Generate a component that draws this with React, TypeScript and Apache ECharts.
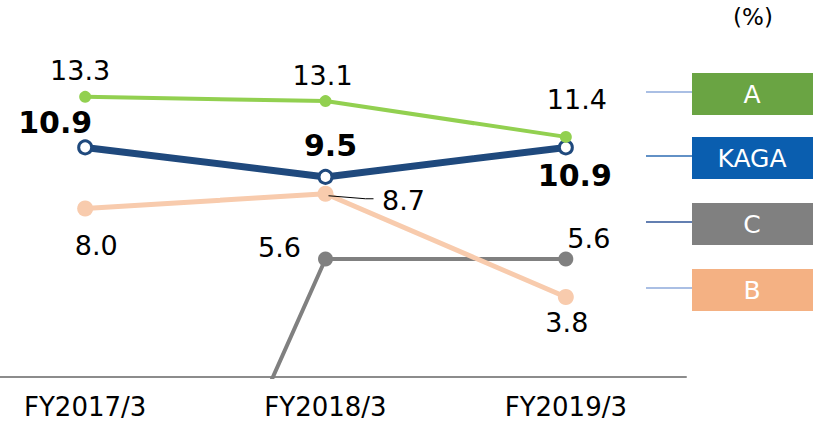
import React, { useEffect, useRef } from "react";
import * as echarts from "echarts";

const categories = ["FY2017/3", "FY2018/3", "FY2019/3"];
const valuesA = [13.3, 13.1, 11.4];
const valuesKaga = [10.9, 9.5, 10.9];
const valuesB = [8.0, 8.7, 3.8];
const valuesC = [-20, 5.6, 5.6];
const legendNames = ["A", "KAGA", "C", "B"];
const unitText = "(%)";

// label offsets (style only)
const offA = [[-5, -26], [-3, -26], [11, -37]];
const offKaga = [[-30, -25], [5, -31], [9, 28]];
const offB = [[11, 37], [78, 7], [1, 26]];
const offC = [[0, 0], [-46, -12], [23, -21]];

const FONT = "DejaVu Sans";
const SHIFT = 35; // chart div starts 35px left of the page so the first band is cut off

export default function App() {
  const ref = useRef<HTMLDivElement>(null);
  useEffect(() => {
    if (!ref.current) return;
    const chart = echarts.init(ref.current, null, { renderer: "svg" });

    const mkData = (vals: number[], offs: number[][], hideFirst = false) =>
      vals.map((v, i) =>
        hideFirst && i === 0
          ? { value: v, symbol: "none", label: { show: false } }
          : { value: v, label: { offset: offs[i] } }
      );

    const baseLabel = {
      show: true,
      position: "inside",
      align: "center",
      verticalAlign: "middle",
      fontSize: 27,
      color: "#000",
      fontFamily: FONT,
      formatter: (p: any) => Number(p.value).toFixed(1),
    };

    chart.setOption({
      animation: false,
      backgroundColor: "#fff",
      grid: { left: 0, right: 133, top: 40, bottom: 45, containLabel: false },
      xAxis: {
        type: "category",
        data: categories,
        boundaryGap: true,
        axisLine: { lineStyle: { color: "#8c8c8c", width: 2 } },
        axisTick: { show: false },
        axisLabel: { fontSize: 26, color: "#000", margin: 17, fontFamily: FONT },
        splitLine: { show: false },
      },
      yAxis: { type: "value", min: 0, max: 16, show: false },
      series: [
        {
          name: "C",
          type: "line",
          clip: true,
          data: mkData(valuesC, offC, true),
          symbol: "circle",
          symbolSize: 15,
          lineStyle: { color: "#808080", width: 4 },
          itemStyle: { color: "#808080" },
          label: baseLabel,
          z: 2,
        },
        {
          name: "B",
          type: "line",
          data: mkData(valuesB, offB),
          symbol: "circle",
          symbolSize: 16,
          lineStyle: { color: "#f8cbad", width: 5 },
          itemStyle: { color: "#f8cbad" },
          label: baseLabel,
          z: 3,
        },
        {
          name: "KAGA",
          type: "line",
          data: mkData(valuesKaga, offKaga),
          symbol: "circle",
          symbolSize: 13,
          lineStyle: { color: "#1f497d", width: 7 },
          itemStyle: { color: "#fff", borderColor: "#1f497d", borderWidth: 3 },
          label: { ...baseLabel, fontSize: 30, fontWeight: "bold" },
          z: 4,
        },
        {
          name: "A",
          type: "line",
          data: mkData(valuesA, offA),
          symbol: "circle",
          symbolSize: 12,
          lineStyle: { color: "#92d050", width: 4 },
          itemStyle: { color: "#92d050" },
          label: baseLabel,
          z: 5,
        },
      ],
    });

    const boxColors = ["#6aa443", "#0a5eaf", "#808080", "#f4b183"];
    const connColors = ["#8eaadb", "#2e6db3", "#2f5597", "#8eaadb"];
    const boxTops = [73, 137, 203, 269];
    const graphics: any[] = [];
    legendNames.forEach((name, i) => {
      const top = boxTops[i];
      graphics.push({
        type: "line",
        shape: { x1: 646 + SHIFT, y1: top + 19, x2: 692 + SHIFT, y2: top + 19 },
        style: { stroke: connColors[i], lineWidth: 1.5 },
      });
      graphics.push({
        type: "rect",
        shape: { x: 692 + SHIFT, y: top, width: 121, height: 42 },
        style: { fill: boxColors[i] },
      });
      graphics.push({
        type: "text",
        x: 752 + SHIFT,
        y: top + 21,
        style: {
          text: name,
          fill: "#fff",
          fontSize: 25,
          fontFamily: FONT,
          align: "center",
          verticalAlign: "middle",
        },
      });
    });
    graphics.push({
      type: "text",
      x: 753 + SHIFT,
      y: 17,
      style: {
        text: unitText,
        fill: "#000",
        fontSize: 23,
        fontFamily: FONT,
        align: "center",
        verticalAlign: "middle",
      },
    });

    // leader line for B at FY2018
    const p = chart.convertToPixel({ seriesIndex: 1 }, [1, valuesB[1]]) as number[];
    if (p) {
      graphics.push({
        type: "polyline",
        shape: {
          points: [
            [p[0] + 3, p[1] + 2],
            [p[0] + 40, p[1] + 5],
            [p[0] + 48, p[1] + 5],
          ],
        },
        style: { stroke: "#000", lineWidth: 1, fill: null },
        z: 10,
      });
    }
    chart.setOption({ graphic: graphics });

    return () => chart.dispose();
  }, []);
  return (
    <div
      ref={ref}
      style={{
        position: "fixed",
        left: -SHIFT,
        top: 0,
        width: 819 + SHIFT,
        height: 422,
        background: "#fff",
      }}
    />
  );
}
